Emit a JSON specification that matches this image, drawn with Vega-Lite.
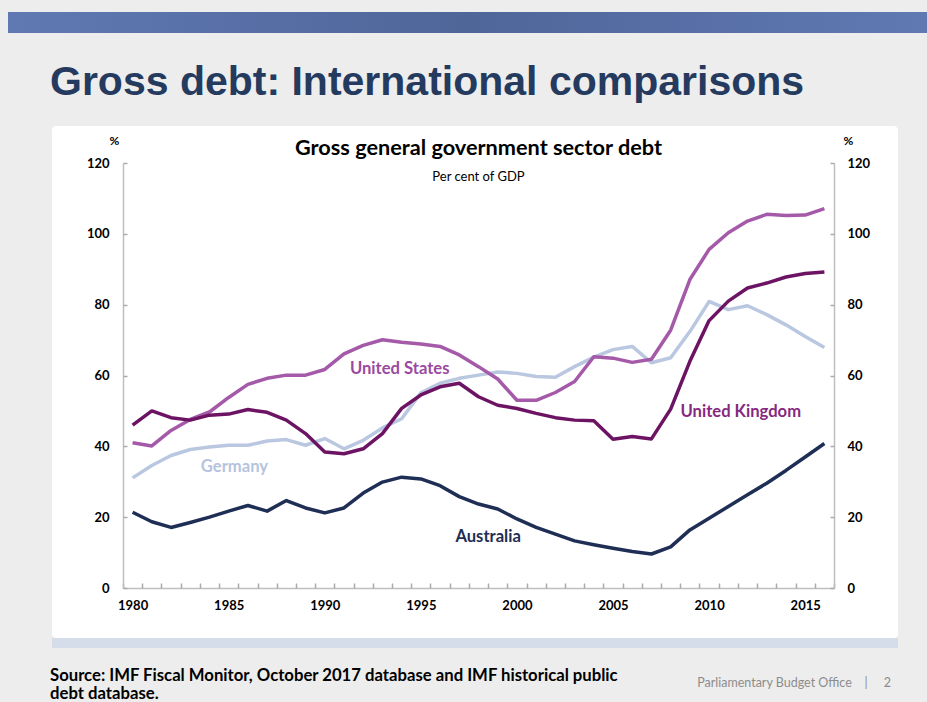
{
  "$schema": "https://vega.github.io/schema/vega-lite/v6.json",
  "background": "#EDEDED",
  "padding": {"left": 8, "top": 12, "right": 0, "bottom": 0},
  "config": {
    "view": {"stroke": null},
    "font": "Lato",
    "axis": {"labelOverlap": false, "grid": false, "tickColor": "#ABABAB", "tickWidth": 1.5, "domainColor": "#BFBFBF", "domainWidth": 1.5}
  },
  "bounds": "flush",
  "spacing": 93,
  "vconcat": [
    {
      "width": 919,
      "height": 21,
      "view": {
        "stroke": null,
        "fill": {
          "gradient": "linear",
          "stops": [
            {"offset": 0, "color": "#6079B3"},
            {"offset": 0.5, "color": "#4F6699"},
            {"offset": 1, "color": "#6079B3"}
          ]
        }
      },
      "data": {"values": []},
      "mark": "point",
      "title": {
        "text": "Gross debt: International comparisons",
        "orient": "bottom",
        "anchor": "start",
        "frame": "group",
        "dx": 42,
        "offset": 62,
        "baseline": "alphabetic",
        "font": "Liberation Sans",
        "fontSize": 41,
        "fontWeight": "bold",
        "color": "#253A5F"
      }
    },
    {
      "bounds": "flush",
      "spacing": 43,
      "hconcat": [
        {
          "width": 1,
          "height": 1,
          "view": {"stroke": null},
          "data": {"values": []},
          "mark": "point"
        },
        {
          "bounds": "flush",
          "spacing": 0,
          "vconcat": [
            {
              "width": 846,
              "height": 512,
              "view": {"fill": "#FFFFFF", "stroke": null, "cornerRadius": 4},
              "title": {
                "text": "Gross general government sector debt",
                "subtitle": "Per cent of GDP",
                "orient": "top",
                "anchor": "middle",
                "frame": "group",
                "dx": 3.5,
                "offset": -58,
                "font": "Lato",
                "fontSize": 21.7,
                "fontWeight": "bold",
                "color": "#000000",
                "subtitleFont": "Lato",
                "subtitleFontSize": 13,
                "subtitleColor": "#000000",
                "subtitlePadding": 11
              },
              "layer": [
                {
                  "data": {
                    "values": [
                      {"year": 1980, "Australia": 21.4, "Germany": 31.1, "United Kingdom": 46.0, "United States": 41.0},
                      {"year": 1981, "Australia": 18.7, "Germany": 34.6, "United Kingdom": 50.0, "United States": 40.1},
                      {"year": 1982, "Australia": 17.1, "Germany": 37.4, "United Kingdom": 48.1, "United States": 44.5},
                      {"year": 1983, "Australia": 18.5, "Germany": 39.1, "United Kingdom": 47.4, "United States": 47.6},
                      {"year": 1984, "Australia": 20.0, "Germany": 39.8, "United Kingdom": 48.8, "United States": 49.7},
                      {"year": 1985, "Australia": 21.7, "Germany": 40.3, "United Kingdom": 49.1, "United States": 53.8},
                      {"year": 1986, "Australia": 23.3, "Germany": 40.3, "United Kingdom": 50.4, "United States": 57.5},
                      {"year": 1987, "Australia": 21.7, "Germany": 41.5, "United Kingdom": 49.6, "United States": 59.2},
                      {"year": 1988, "Australia": 24.7, "Germany": 41.9, "United Kingdom": 47.4, "United States": 60.1},
                      {"year": 1989, "Australia": 22.6, "Germany": 40.3, "United Kingdom": 43.6, "United States": 60.1},
                      {"year": 1990, "Australia": 21.2, "Germany": 42.2, "United Kingdom": 38.4, "United States": 61.7},
                      {"year": 1991, "Australia": 22.6, "Germany": 39.3, "United Kingdom": 37.9, "United States": 66.1},
                      {"year": 1992, "Australia": 26.8, "Germany": 41.7, "United Kingdom": 39.3, "United States": 68.5},
                      {"year": 1993, "Australia": 29.9, "Germany": 45.2, "United Kingdom": 43.6, "United States": 70.1},
                      {"year": 1994, "Australia": 31.3, "Germany": 47.8, "United Kingdom": 50.7, "United States": 69.4},
                      {"year": 1995, "Australia": 30.8, "Germany": 55.1, "United Kingdom": 54.5, "United States": 68.9},
                      {"year": 1996, "Australia": 28.9, "Germany": 57.8, "United Kingdom": 56.8, "United States": 68.2},
                      {"year": 1997, "Australia": 25.8, "Germany": 59.2, "United Kingdom": 57.8, "United States": 65.8},
                      {"year": 1998, "Australia": 23.7, "Germany": 60.1, "United Kingdom": 54.0, "United States": 62.5},
                      {"year": 1999, "Australia": 22.3, "Germany": 61.0, "United Kingdom": 51.6, "United States": 59.0},
                      {"year": 2000, "Australia": 19.5, "Germany": 60.6, "United Kingdom": 50.7, "United States": 53.0},
                      {"year": 2001, "Australia": 17.1, "Germany": 59.7, "United Kingdom": 49.3, "United States": 53.0},
                      {"year": 2002, "Australia": 15.2, "Germany": 59.5, "United Kingdom": 48.1, "United States": 55.2},
                      {"year": 2003, "Australia": 13.3, "Germany": 62.5, "United Kingdom": 47.4, "United States": 58.3},
                      {"year": 2004, "Australia": 12.2, "Germany": 65.2, "United Kingdom": 47.2, "United States": 65.3},
                      {"year": 2005, "Australia": 11.2, "Germany": 67.3, "United Kingdom": 42.0, "United States": 64.9},
                      {"year": 2006, "Australia": 10.3, "Germany": 68.2, "United Kingdom": 42.8, "United States": 63.7},
                      {"year": 2007, "Australia": 9.6, "Germany": 63.6, "United Kingdom": 42.1, "United States": 64.6},
                      {"year": 2008, "Australia": 11.6, "Germany": 65.0, "United Kingdom": 50.5, "United States": 72.8},
                      {"year": 2009, "Australia": 16.4, "Germany": 72.4, "United Kingdom": 64.0, "United States": 87.1},
                      {"year": 2010, "Australia": 19.7, "Germany": 80.9, "United Kingdom": 75.5, "United States": 95.6},
                      {"year": 2011, "Australia": 23.0, "Germany": 78.6, "United Kingdom": 81.0, "United States": 100.3},
                      {"year": 2012, "Australia": 26.3, "Germany": 79.7, "United Kingdom": 84.7, "United States": 103.6},
                      {"year": 2013, "Australia": 29.6, "Germany": 77.2, "United Kingdom": 86.1, "United States": 105.5},
                      {"year": 2014, "Australia": 33.2, "Germany": 74.3, "United Kingdom": 87.8, "United States": 105.2},
                      {"year": 2015, "Australia": 37.0, "Germany": 71.0, "United Kingdom": 88.8, "United States": 105.3},
                      {"year": 2016, "Australia": 40.8, "Germany": 67.9, "United Kingdom": 89.2, "United States": 107.1}
                    ]
                  },
                  "transform": [
                    {"fold": ["Germany", "Australia", "United States", "United Kingdom"], "as": ["country", "value"]}
                  ],
                  "mark": {"type": "line", "strokeWidth": 3.5, "strokeJoin": "round"},
                  "encoding": {
                    "x": {
                      "field": "year",
                      "type": "quantitative",
                      "scale": {"domain": [1979.5, 2016.5], "range": [71, 782], "nice": false, "zero": false},
                      "axis": {
                        "orient": "bottom",
                        "offset": -50,
                        "title": null,
                        "ticks": false,
                        "values": [1979.5, 1980.5, 1981.5, 1982.5, 1983.5, 1984.5, 1985.5, 1986.5, 1987.5, 1988.5, 1989.5, 1990.5, 1991.5, 1992.5, 1993.5, 1994.5, 1995.5, 1996.5, 1997.5, 1998.5, 1999.5, 2000.5, 2001.5, 2002.5, 2003.5, 2004.5, 2005.5, 2006.5, 2007.5, 2008.5, 2009.5, 2010.5, 2011.5, 2012.5, 2013.5, 2014.5, 2015.5, 2016.5],
                        "labelExpr": "(datum.value + 0.5) % 5 == 0 ? '' + (datum.value + 0.5) : ''",
                        "labelOffset": 9.6,
                        "labelFlush": false,
                        "labelOverlap": false,
                        "labelPadding": 11,
                        "labelFont": "Lato",
                        "labelFontSize": 13,
                        "labelFontWeight": "bold",
                        "labelColor": "#000000"
                      }
                    },
                    "y": {
                      "field": "value",
                      "type": "quantitative",
                      "scale": {"domain": [0, 120], "range": [462, 37], "nice": false},
                      "axis": {
                        "orient": "left",
                        "offset": -71,
                        "ticks": false,
                        "values": [0, 20, 40, 60, 80, 100, 120],
                        "title": "%",
                        "titleAngle": 0,
                        "titleX": -9,
                        "titleY": 18,
                        "titleAlign": "center",
                        "titleBaseline": "alphabetic",
                        "titleFont": "Lato",
                        "titleFontSize": 12,
                        "titleFontWeight": "bold",
                        "titleColor": "#000000",
                        "labelPadding": 14,
                        "labelFont": "Lato",
                        "labelFontSize": 13,
                        "labelFontWeight": "bold",
                        "labelColor": "#000000"
                      }
                    },
                    "color": {
                      "field": "country",
                      "type": "nominal",
                      "scale": {
                        "domain": ["Australia", "Germany", "United Kingdom", "United States"],
                        "range": ["#1E2E54", "#BAC7E0", "#6D1363", "#A459A9"]
                      },
                      "legend": null
                    }
                  }
                },
                {
                  "data": {
                    "values": [
                      {"country": "United States", "year": 1993.9, "value": 61.8},
                      {"country": "United Kingdom", "year": 2011.65, "value": 49.7},
                      {"country": "Germany", "year": 1985.3, "value": 34.2},
                      {"country": "Australia", "year": 1998.5, "value": 14.4}
                    ]
                  },
                  "mark": {"type": "text", "font": "Lato", "fontSize": 16.6, "fontWeight": "bold", "align": "center", "baseline": "middle"},
                  "encoding": {
                    "x": {
                      "field": "year",
                      "type": "quantitative",
                      "axis": {
                        "orient": "top",
                        "offset": -462,
                        "title": null,
                        "labels": false,
                        "domain": false,
                        "tickSize": 5,
                        "values": [1979.5, 1980.5, 1981.5, 1982.5, 1983.5, 1984.5, 1985.5, 1986.5, 1987.5, 1988.5, 1989.5, 1990.5, 1991.5, 1992.5, 1993.5, 1994.5, 1995.5, 1996.5, 1997.5, 1998.5, 1999.5, 2000.5, 2001.5, 2002.5, 2003.5, 2004.5, 2005.5, 2006.5, 2007.5, 2008.5, 2009.5, 2010.5, 2011.5, 2012.5, 2013.5, 2014.5, 2015.5, 2016.5]
                      }
                    },
                    "y": {
                      "field": "value",
                      "type": "quantitative",
                      "axis": {
                        "orient": "right",
                        "offset": -64,
                        "ticks": false,
                        "values": [0, 20, 40, 60, 80, 100, 120],
                        "title": "%",
                        "titleAngle": 0,
                        "titleX": 14,
                        "titleY": 18,
                        "titleAlign": "center",
                        "titleBaseline": "alphabetic",
                        "titleFont": "Lato",
                        "titleFontSize": 12,
                        "titleFontWeight": "bold",
                        "titleColor": "#000000",
                        "labelPadding": 13,
                        "labelFont": "Lato",
                        "labelFontSize": 13,
                        "labelFontWeight": "bold",
                        "labelColor": "#000000"
                      }
                    },
                    "text": {"field": "country"},
                    "color": {
                      "field": "country",
                      "type": "nominal",
                      "scale": {
                        "domain": ["Australia", "Germany", "United Kingdom", "United States"],
                        "range": ["#1E2E54", "#B6C3DE", "#86287F", "#9A4A9F"]
                      },
                      "legend": null
                    }
                  }
                },
                {
                  "data": {"values": []},
                  "mark": "point",
                  "encoding": {
                    "x": {"field": "year", "type": "quantitative", "axis": null},
                    "y": {
                      "field": "value",
                      "type": "quantitative",
                      "axis": {
                        "orient": "right",
                        "offset": -775,
                        "title": null,
                        "labels": false,
                        "domain": false,
                        "tickSize": 4,
                        "values": [0, 20, 40, 60, 80, 100, 120]
                      }
                    }
                  }
                },
                {
                  "data": {"values": []},
                  "mark": "point",
                  "encoding": {
                    "x": {"field": "year", "type": "quantitative", "axis": null},
                    "y": {
                      "field": "value",
                      "type": "quantitative",
                      "axis": {
                        "orient": "left",
                        "offset": -782,
                        "title": null,
                        "labels": false,
                        "domain": false,
                        "tickSize": 4,
                        "values": [0, 20, 40, 60, 80, 100, 120]
                      }
                    }
                  }
                }
              ],
              "resolve": {"axis": {"x": "independent", "y": "independent"}, "scale": {"color": "independent"}}
            },
            {
              "width": 846,
              "height": 10,
              "view": {"fill": "#D5DCEA", "stroke": null},
              "data": {"values": []},
              "mark": "point"
            },
            {
              "bounds": "flush",
              "spacing": 0,
              "hconcat": [
                {
                  "width": 423,
                  "height": 1,
                  "view": {"stroke": null},
                  "data": {"values": []},
                  "mark": "point",
                  "title": {
                    "text": ["Source: IMF Fiscal Monitor, October 2017 database and IMF historical public", "debt database."],
                    "orient": "bottom",
                    "anchor": "start",
                    "frame": "group",
                    "dx": -2,
                    "offset": 31.5,
                    "baseline": "alphabetic",
                    "lineHeight": 18,
                    "limit": 900,
                    "font": "Lato",
                    "fontSize": 16.7,
                    "fontWeight": "bold",
                    "color": "#000000"
                  }
                },
                {
                  "width": 423,
                  "height": 1,
                  "view": {"stroke": null},
                  "data": {"values": []},
                  "mark": "point",
                  "title": {
                    "text": "Parliamentary Budget Office\u00a0\u00a0\u00a0\u00a0|\u00a0\u00a0\u00a0\u00a0\u00a02",
                    "orient": "bottom",
                    "anchor": "end",
                    "frame": "group",
                    "dx": -7,
                    "offset": 37.5,
                    "baseline": "alphabetic",
                    "limit": 400,
                    "font": "Lato",
                    "fontSize": 12.5,
                    "fontWeight": "normal",
                    "color": "#8C8C8C"
                  }
                }
              ]
            }
          ]
        }
      ]
    }
  ]
}
